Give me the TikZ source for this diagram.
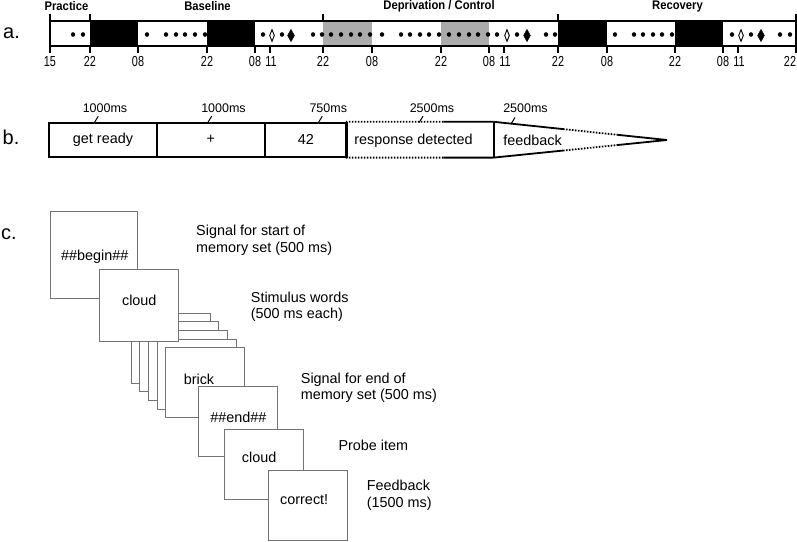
\documentclass[tikz,border=0pt]{standalone}
\usepackage{fontspec}
\setmainfont{Liberation Sans}
\newfontfamily\headfont[FakeStretch=0.9]{Liberation Sans}
\newfontfamily\tickfont[FakeStretch=0.75]{Liberation Sans}
\usetikzlibrary{shapes.geometric,calc}
\tikzstyle{blackdot}=[circle,draw=black,fill=black,
                      inner sep=0pt,minimum size=4pt]
\tikzstyle{opendiamond}=[diamond,draw=black,fill=white,line width=0.9pt,
                      inner sep=0pt,minimum width=5pt,minimum height=12pt]
\tikzstyle{filldiamond}=[diamond,draw=black,fill=black,
                      inner sep=0pt,minimum width=7pt,minimum height=12.5pt]
\tikzstyle{ticklabel}=[inner sep=0pt,font=\tickfont\fontsize{14.5}{15}\selectfont]
\tikzstyle{header}=[inner sep=0pt,font=\headfont\bfseries\fontsize{12.5}{14}\selectfont]
\tikzstyle{partlabel}=[inner sep=0pt,font=\fontsize{20}{24}\selectfont]
\tikzstyle{stepbox}=[rectangle,draw=black,line width=1.8pt,inner sep=0pt,
                      minimum height=34pt,font=\fontsize{14.4}{16}\selectfont]
\tikzstyle{msnode}=[inner sep=0pt,font=\fontsize{12.5}{14}\selectfont]
\tikzstyle{card}=[rectangle,draw=black!55,fill=white,line width=0.9pt,
                      inner sep=0pt,minimum width=79pt,minimum height=70pt]
\tikzstyle{cardtext}=[inner sep=0pt,font=\fontsize{14.4}{16.6}\selectfont]
\tikzstyle{note}=[anchor=north west,align=left,inner sep=0pt,
                      font=\fontsize{14.4}{16.6}\selectfont]

\begin{document}
\begin{tikzpicture}[x=1pt,y=-1pt]
    \newcommand{\bartop}{21}
    \newcommand{\barbot}{46}
    \useasboundingbox (0,0) rectangle (797,541);
    % a.
    \node[partlabel] (la) at (11.5,33) {a.};
    \foreach \l/\r in {90/138,207/255,558/607,675/723}
      \fill[black] (\l,\bartop) rectangle (\r,\barbot);
    \foreach \l/\r in {323/372,441/489}
      \fill[black!33] (\l,\bartop) rectangle (\r,\barbot);
    \draw[line width=2.6pt] (50,\bartop) -- (796,\bartop) (50,\barbot) -- (796,\barbot);
    \draw[line width=2pt] (50,13.5) -- (50,53) (796,13.5) -- (796,53);
    \foreach \x in {90,323,558}
      \draw[line width=2pt] (\x,13.5) -- (\x,\bartop);
    \foreach \x in {90,138,207,255,270,323,372,441,489,504,558,607,675,723,738}
      \draw[line width=2pt] (\x,\barbot) -- (\x,53);
    \foreach \x/\t [count=\i] in {50/15,90/22,138/08,207/22,255/08,271/11,323/22,
        372/08,441/22,489/08,505/11,558/22,607/08,675/22,723/08,739/11,790/22}
      \node[ticklabel] (t\i) at (\x,61.5) {\t};
    \foreach \x in {73,83,147,166,176,185,195,205,263,282,313,322,331,341,351,
        360,370,382,401,410,420,429,439,449,459,469,478,488,497,517,546,555,
        615,634,643,653,662,672,732,751,780,790}
      \node[blackdot] (d\x) at (\x,34.5) {};
    \foreach \x in {272,507,741}
      \node[opendiamond] (o\x) at (\x,35.5) {};
    \foreach \x in {291,527,761}
      \node[filldiamond] (f\x) at (\x,35.5) {};
    \node[header] (hprac) at (66.5,6.5) {Practice};
    \node[header] (hbase) at (207.5,6.5) {Baseline};
    \node[header] (hdepr) at (439,6.5) {Deprivation / Control};
    \node[header] (hreco) at (677.5,6.5) {Recovery};
    % b.
    \node[partlabel] (lb) at (11,137) {b.};
    \node[stepbox,minimum width=107.4pt] (gr) at (103,139.7) {get ready};
    \node[stepbox,minimum width=108.3pt] (fx) at (210.85,139.7) {+};
    \node[stepbox,minimum width=81.7pt] (nm) at (305.85,139.7) {42};
    \node[stepbox,draw=none,minimum width=146pt] (rd) at (419.7,139.7) {};
    \node[cardtext] (rdt) at (413.5,140.5) {response detected};
    \node[cardtext] (fb) at (532.5,140.5) {feedback};
    \coordinate (tip) at (667,140);
    \draw[line width=1.8pt] (rd.north west) -- (rd.south west)
        (rd.north east) -- (rd.south east);
    \draw[line width=1.8pt] ($(rd.north west)!0.66!(rd.north east)$) -- (rd.north east)
        ($(rd.south west)!0.66!(rd.south east)$) -- (rd.south east);
    \draw[line width=1.8pt,dash pattern=on 1.6pt off 1.4pt]
        (rd.north west) -- ($(rd.north west)!0.66!(rd.north east)$)
        (rd.south west) -- ($(rd.south west)!0.66!(rd.south east)$);
    \draw[line width=1.8pt] (rd.north east) -- ($(rd.north east)!0.4!(tip)$)
        ($(rd.north east)!0.71!(tip)$) -- (tip)
        (rd.south east) -- ($(rd.south east)!0.4!(tip)$)
        ($(rd.south east)!0.71!(tip)$) -- (tip);
    \draw[line width=1.8pt,dash pattern=on 1.6pt off 1.4pt]
        ($(rd.north east)!0.4!(tip)$) -- ($(rd.north east)!0.71!(tip)$)
        ($(rd.south east)!0.4!(tip)$) -- ($(rd.south east)!0.71!(tip)$);
    \foreach \x/\s/\y/\t [count=\i] in {105/94.3/122.7/1000ms,223.5/207.7/122.7/1000ms,
        328.3/318.3/122.7/750ms,432/419/122.7/2500ms,525.5/511/124/2500ms} {
      \node[msnode] (ms\i) at (\x,107.8) {\t};
      \coordinate (sl\i) at (\s,\y);
      \draw[line width=1pt] (sl\i) -- ++(4,-6.5);
    }
    % c.
    \node[partlabel] (lc) at (9,234) {c.};
    \node[card,minimum width=87pt,minimum height=87pt] (c1) at (93.5,254.5) {};
    \foreach \k in {0,...,4}
      \node[card] (s\k) at ({170.5+8.7*\k},{348.3+8.6*\k}) {};
    \node[card,minimum height=72pt] (c2) at (138.7,305.7) {};
    \node[card] (c8) at (237.5,421) {};
    \node[card] (c9) at (263.7,464.3) {};
    \node[card] (c10) at (307.5,505.3) {};
    \node[cardtext] (w1) at (94.7,256.7) {\#\#begin\#\#};
    \node[cardtext] (w2) at (139.3,300.7) {cloud};
    \node[cardtext] (w7) at (199,379.3) {brick};
    \node[cardtext] (w8) at (238.3,417.3) {\#\#end\#\#};
    \node[cardtext] (w9) at (259.2,457.3) {cloud};
    \node[cardtext] (w10) at (304.2,499.3) {correct!};
    \node[note] (n1) at (196,225) {Signal for start of\\memory set (500 ms)};
    \node[note] (n2) at (250.7,291.5) {Stimulus words\\(500 ms each)};
    \node[note] (n3) at (300.7,372.5) {Signal for end of\\memory set (500 ms)};
    \node[note] (n4) at (338.3,439.9) {Probe item};
    \node[note] (n5) at (366.7,479.9) {Feedback\\(1500 ms)};
\end{tikzpicture}
\end{document}
